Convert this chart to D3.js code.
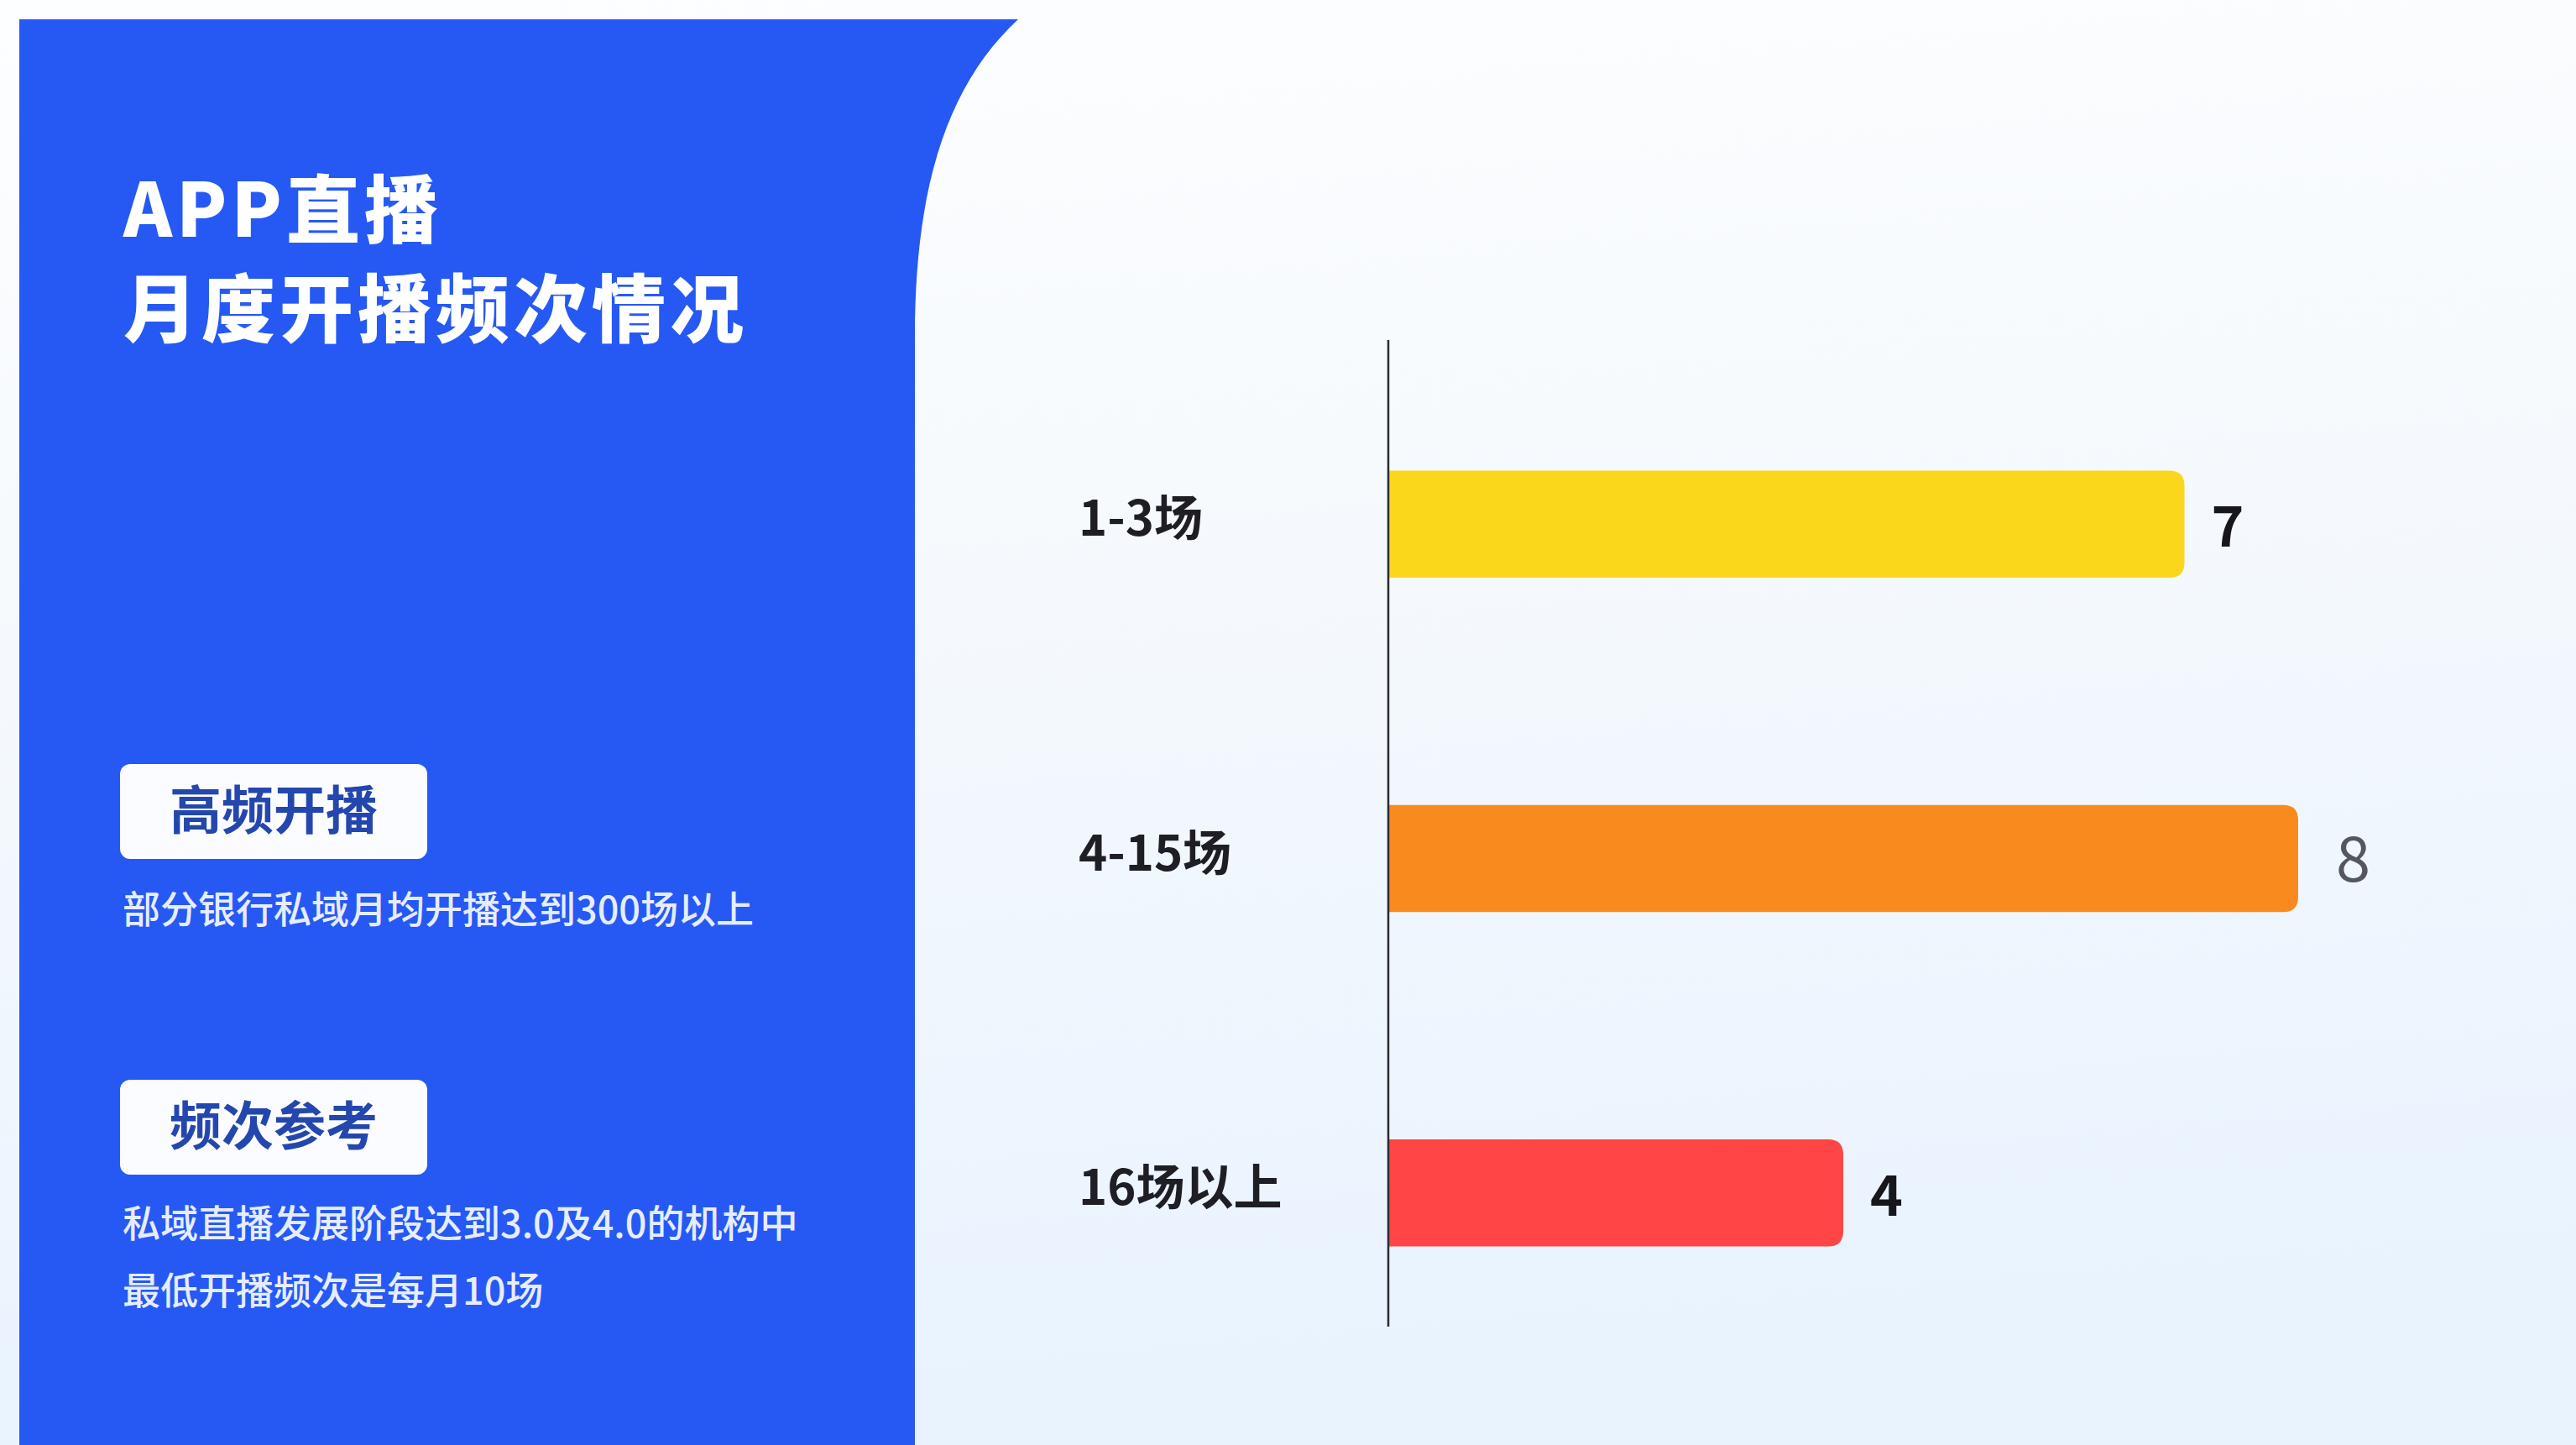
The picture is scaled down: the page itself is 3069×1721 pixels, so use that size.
<!DOCTYPE html>
<html>
<head>
<meta charset="utf-8">
<script src="https://cdn.jsdelivr.net/npm/d3@7/dist/d3.min.js"></script>
<style>
  html, body { margin: 0; padding: 0; background: #ffffff; }
  svg { display: block; }
  text { font-family: "Noto Sans CJK SC", "Noto Sans", sans-serif; }
</style>
</head>
<body>
<svg id="chart" width="3069" height="1721"></svg>
<script>
// Monthly broadcast frequency of bank APP live streams
const categories = ["1-3场", "4-15场", "16场以上"];
const values = [7, 8, 4];
const barColors = ["#FAD71B", "#F98A1E", "#FF4545"];
const titleLines = ["APP直播", "月度开播频次情况"];
const badgeLabels = ["高频开播", "频次参考"];
const notes = [
  ["部分银行私域月均开播达到300场以上"],
  ["私域直播发展阶段达到3.0及4.0的机构中", "最低开播频次是每月10场"]
];

const W = 3069, H = 1721;
const svg = d3.select("#chart");
const defs = svg.append("defs");

// soft background wash for the chart side
const bg = defs.append("linearGradient")
  .attr("id", "bgGrad").attr("x1", 0).attr("y1", 0).attr("x2", 0.15).attr("y2", 1);
bg.append("stop").attr("offset", "0%").attr("stop-color", "#fdfeff");
bg.append("stop").attr("offset", "45%").attr("stop-color", "#f5f9fd");
bg.append("stop").attr("offset", "100%").attr("stop-color", "#e9f3fe");
svg.append("rect").attr("width", W).attr("height", H).attr("fill", "url(#bgGrad)");

// blue side panel with curved right edge
svg.append("path")
  .attr("d", "M23,23 L1213,23 C1130,100 1090,220 1090,400 L1090," + H + " L23," + H + " Z")
  .attr("fill", "#2659F4");

// title
const title = svg.append("text")
  .attr("fill", "#ffffff")
  .attr("font-size", 88)
  .attr("font-weight", 900)
  .attr("letter-spacing", 5);
title.selectAll("tspan").data(titleLines).join("tspan")
  .attr("x", 147)
  .attr("y", (d, i) => i === 0 ? 282 : 400)
  .text(d => d);

// badges and notes
const badgeTops = [910, 1286];
const noteBaselines = [[1100], [1474, 1554]];
badgeLabels.forEach((label, i) => {
  const g = svg.append("g");
  g.append("rect")
    .attr("x", 143).attr("y", badgeTops[i])
    .attr("width", 366).attr("height", 113)
    .attr("rx", 12)
    .attr("fill", "#fbfcff");
  g.append("text")
    .attr("x", 326).attr("y", badgeTops[i] + 78)
    .attr("text-anchor", "middle")
    .attr("font-size", 62)
    .attr("font-weight", 700)
    .attr("fill", "#2447AE")
    .text(label);
  g.selectAll("text.note").data(notes[i]).join("text")
    .attr("class", "note")
    .attr("x", 146)
    .attr("y", (d, j) => noteBaselines[i][j])
    .attr("font-size", 45)
    .attr("font-weight", 500)
    .attr("fill", "#e6edff")
    .text(d => d);
});

// chart scales
const axisX = 1654;
const x = d3.scaleLinear().domain([0, 8]).range([axisX, 2738]);
const y = d3.scaleBand()
  .domain(categories)
  .range([425, 1620])
  .paddingInner(0.68)
  .paddingOuter(0.34);

// category axis
const yAxis = svg.append("g")
  .attr("transform", `translate(${axisX},0)`)
  .call(d3.axisLeft(y).tickSize(0).tickPadding(0));
yAxis.select(".domain").remove();
yAxis.selectAll(".tick text")
  .attr("x", 1285 - axisX)
  .attr("dy", null)
  .attr("y", 14)
  .attr("text-anchor", "start")
  .attr("font-family", '"Noto Sans CJK SC", "Noto Sans", sans-serif')
  .attr("font-size", 58)
  .attr("font-weight", 600)
  .attr("fill", "#1e1e24");

// bars with rounded right end
const r = 18;
const barPath = (x0, x1, y0, h) =>
  `M${x0},${y0} H${x1 - r} Q${x1},${y0} ${x1},${y0 + r} V${y0 + h - r} Q${x1},${y0 + h} ${x1 - r},${y0 + h} H${x0} Z`;

svg.append("g").selectAll("path")
  .data(values)
  .join("path")
  .attr("d", (d, i) => barPath(x(0), x(d), y(categories[i]), y.bandwidth()))
  .attr("fill", (d, i) => barColors[i]);

// vertical axis line
svg.append("line")
  .attr("x1", axisX).attr("x2", axisX)
  .attr("y1", 405).attr("y2", 1580)
  .attr("stroke", "#2b2b30")
  .attr("stroke-width", 2.5);

// value labels
svg.append("g").selectAll("text")
  .data(values)
  .join("text")
  .attr("x", (d, i) => x(d) + (i === 1 ? 45 : 32))
  .attr("y", (d, i) => y(categories[i]) + y.bandwidth() / 2 + 27)
  .attr("font-family", '"Noto Sans", "Open Sans", sans-serif')
  .attr("font-size", (d, i) => i === 1 ? 74 : 66)
  .attr("font-weight", (d, i) => i === 1 ? 400 : 700)
  .attr("fill", (d, i) => i === 1 ? "#55575c" : "#16161c")
  .text(d => d);
</script>
</body>
</html>
